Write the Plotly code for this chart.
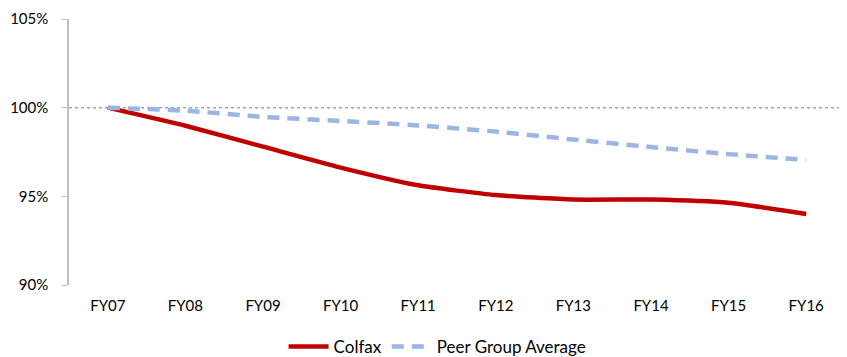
import plotly.graph_objects as go

years = ["FY07", "FY08", "FY09", "FY10", "FY11", "FY12", "FY13", "FY14", "FY15", "FY16"]
colfax = [100.0, 98.98, 97.8, 96.62, 95.62, 95.07, 94.82, 94.82, 94.64, 94.0]
peer = [100.0, 99.83, 99.48, 99.25, 99.0, 98.65, 98.2, 97.78, 97.38, 97.05]
y_ticks = [90, 95, 100, 105]
y_tick_labels = ["90%", "95%", "100%", "105%"]

font_family = "Lato, Liberation Sans, sans-serif"

fig = go.Figure()
fig.add_trace(go.Scatter(
    x=years, y=colfax, name="Colfax", mode="lines",
    line=dict(color="#C00000", width=4.5, shape="spline", smoothing=0.5),
))
fig.add_trace(go.Scatter(
    x=years, y=peer, name="Peer Group Average", mode="lines",
    line=dict(color="#9BB5E4", width=4.5, dash="12px,8px", shape="spline", smoothing=0.5),
))

fig.add_shape(type="line", xref="paper", x0=0, x1=1, yref="y", y0=100, y1=100,
              line=dict(color="#A6A6A6", width=1.5, dash="dot"), layer="below")

fig.update_layout(
    width=839, height=349,
    margin=dict(l=61, r=2, t=11, b=72, autoexpand=False),
    paper_bgcolor="white", plot_bgcolor="white",
    font=dict(family=font_family, size=15, color="#000000"),
    showlegend=True,
    legend=dict(orientation="h", x=0.512, xanchor="center", xref="container",
                y=0.029, yanchor="middle", yref="container",
                font=dict(size=17), tracegroupgap=0, itemwidth=40),
    xaxis=dict(showgrid=False, showline=False, zeroline=False, ticks="",
               range=[-0.5, 9.5], tickfont=dict(size=15), ticklabelstandoff=10),
    yaxis=dict(range=[90, 105], tickvals=y_ticks, ticktext=y_tick_labels,
               showgrid=False, zeroline=False, showline=True, linecolor="#BFBFBF",
               linewidth=1.5, ticks="outside", ticklen=5, tickcolor="#BFBFBF",
               tickfont=dict(size=15), ticklabelstandoff=11),
)

fig.write_html("out.html")
